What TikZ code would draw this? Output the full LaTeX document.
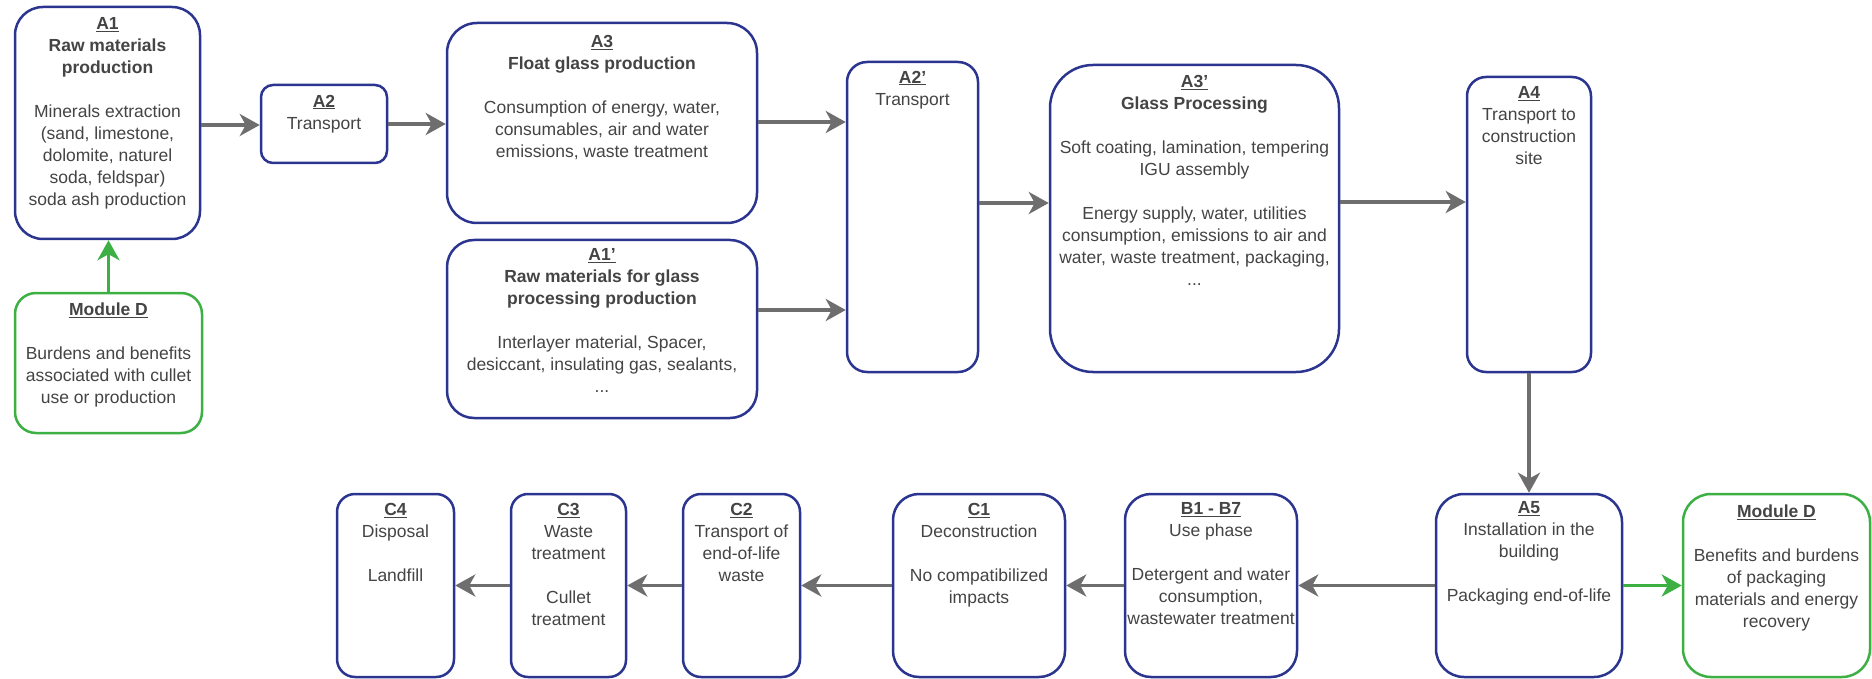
\documentclass[tikz,border=0pt]{standalone}
\usepackage{fontspec}
\setmainfont{Liberation Sans}
\usetikzlibrary{arrows.meta}
\definecolor{boxblue}{HTML}{2B3590}
\definecolor{boxgreen}{HTML}{3CB043}
\definecolor{arrowgray}{HTML}{6E6E6E}
\definecolor{txtgray}{HTML}{444444}
\tikzset{
  box/.style={draw=boxblue, line width=2.5pt, fill=white, inner sep=0pt},
  gbox/.style={draw=boxgreen, line width=2.5pt, fill=white, inner sep=0pt},
  txt/.style={anchor=north, inner sep=0pt, align=center, text=txtgray,
    font=\fontsize{17.5}{22}\selectfont,
    execute at begin node={\rule{0pt}{17.3pt}}},
  arr/.style={draw=arrowgray, line width=3.5pt, -{Stealth[length=20pt,width=22pt,inset=6pt]}},
  garr/.style={draw=boxgreen, line width=3.5pt, -{Stealth[length=20pt,width=22pt,inset=6pt]}}
}
\newcommand{\lab}[1]{\underline{\textbf{#1}}}
\begin{document}
\begin{tikzpicture}[x=1pt,y=-1pt]
\useasboundingbox (0,0) rectangle (1872,679);
% top row boxes
\node[box, minimum width=185pt, minimum height=232pt, rounded corners=28pt] (A1) at (107.5,123) {};
\node[box, minimum width=126pt, minimum height=78pt, rounded corners=12pt] (A2) at (324,124) {};
\node[box, minimum width=310pt, minimum height=200pt, rounded corners=30pt] (A3) at (602,123) {};
\node[box, minimum width=310pt, minimum height=178pt, rounded corners=27pt] (A1p) at (602,329) {};
\node[box, minimum width=131pt, minimum height=310pt, rounded corners=20pt] (A2p) at (912.5,217) {};
\node[box, minimum width=289pt, minimum height=307pt, rounded corners=43pt] (A3p) at (1194.5,218.5) {};
\node[box, minimum width=124pt, minimum height=295pt, rounded corners=19pt] (A4) at (1529,224.5) {};
\node[gbox, minimum width=187pt, minimum height=140pt, rounded corners=21pt] (MD1) at (108.5,363) {};
% bottom row boxes
\node[box, minimum width=186pt, minimum height=183pt, rounded corners=28pt] (A5) at (1529,585.5) {};
\node[gbox, minimum width=187pt, minimum height=183pt, rounded corners=28pt] (MD2) at (1776.5,585.5) {};
\node[box, minimum width=172pt, minimum height=183pt, rounded corners=26pt] (B) at (1211,585.5) {};
\node[box, minimum width=172pt, minimum height=183pt, rounded corners=26pt] (C1) at (979,585.5) {};
\node[box, minimum width=117pt, minimum height=183pt, rounded corners=18pt] (C2) at (741.5,585.5) {};
\node[box, minimum width=115pt, minimum height=183pt, rounded corners=17pt] (C3) at (568.5,585.5) {};
\node[box, minimum width=117pt, minimum height=183pt, rounded corners=18pt] (C4) at (395.5,585.5) {};
% texts
\node[txt] (A1t) at ([yshift=-12pt]A1.north) {\lab{A1}\\ \textbf{Raw materials}\\ \textbf{production}\\[22pt] Minerals extraction\\ (sand, limestone,\\ dolomite, naturel\\ soda, feldspar)\\ soda ash production};
\node[txt] (A2t) at ([yshift=-11pt]A2.north) {\lab{A2}\\ Transport};
\node[txt] (A3t) at ([yshift=-13pt]A3.north) {\lab{A3}\\ \textbf{Float glass production}\\[22pt] Consumption of energy, water,\\ consumables, air and water\\ emissions, waste treatment};
\node[txt] (A1pt) at ([yshift=-10pt]A1p.north) {\lab{A1'}\\ \textbf{Raw materials for glass}\\ \textbf{processing production}\\[22pt] Interlayer material, Spacer,\\ desiccant, insulating gas, sealants,\\ ...};
\node[txt] (A2pt) at ([yshift=-10pt]A2p.north) {\lab{A2'}\\ Transport};
\node[txt] (A3pt) at ([yshift=-11pt]A3p.north) {\lab{A3'}\\ \textbf{Glass Processing}\\[22pt] Soft coating, lamination, tempering\\ IGU assembly\\[22pt] Energy supply, water, utilities\\ consumption, emissions to air and\\ water, waste treatment, packaging,\\ ...};
\node[txt] (A4t) at ([yshift=-11pt]A4.north) {\lab{A4}\\ Transport to\\ construction\\ site};
\node[txt] (MD1t) at ([yshift=-11pt]MD1.north) {\lab{Module D}\\[22pt] Burdens and benefits\\ associated with cullet\\ use or production};
\node[txt] (A5t) at ([yshift=-9pt]A5.north) {\lab{A5}\\ Installation in the\\ building\\[22pt] Packaging end-of-life};
\node[txt] (MD2t) at ([yshift=-12pt]MD2.north) {\lab{Module D}\\[22pt] Benefits and burdens\\ of packaging\\ materials and energy\\ recovery};
\node[txt] (Bt) at ([yshift=-10pt]B.north) {\lab{B1 - B7}\\ Use phase\\[22pt] Detergent and water\\ consumption,\\ wastewater treatment};
\node[txt] (C1t) at ([yshift=-10pt]C1.north) {\lab{C1}\\ Deconstruction\\[22pt] No compatibilized\\ impacts};
\node[txt] (C2t) at ([yshift=-10pt]C2.north) {\lab{C2}\\ Transport of\\ end-of-life\\ waste};
\node[txt] (C3t) at ([yshift=-10pt]C3.north) {\lab{C3}\\ Waste\\ treatment\\[22pt] Cullet\\ treatment};
\node[txt] (C4t) at ([yshift=-10pt]C4.north) {\lab{C4}\\ Disposal\\[22pt] Landfill};
% connectors
\draw[arr] (A1.east |- 0,125) -- (A2.west |- 0,125);
\draw[arr] (A2.east) -- (A3.west |- A2.east);
\draw[arr] (A3.east |- 0,122) -- (A2p.west |- 0,122);
\draw[arr] (A1p.east |- 0,310) -- (A2p.west |- 0,310);
\draw[arr] (A2p.east |- 0,203) -- (A3p.west |- 0,203);
\draw[arr] (A3p.east |- 0,202) -- (A4.west |- 0,202);
\draw[arr] (A4.south) -- (A5.north);
\draw[arr] (A5.west) -- (B.east);
\draw[arr] (B.west) -- (C1.east);
\draw[arr] (C1.west) -- (C2.east);
\draw[arr] (C2.west) -- (C3.east);
\draw[arr] (C3.west) -- (C4.east);
\draw[garr] (A5.east) -- (MD2.west);
\draw[garr] (MD1.north) -- (A1.south -| MD1.north);
\end{tikzpicture}
\end{document}
